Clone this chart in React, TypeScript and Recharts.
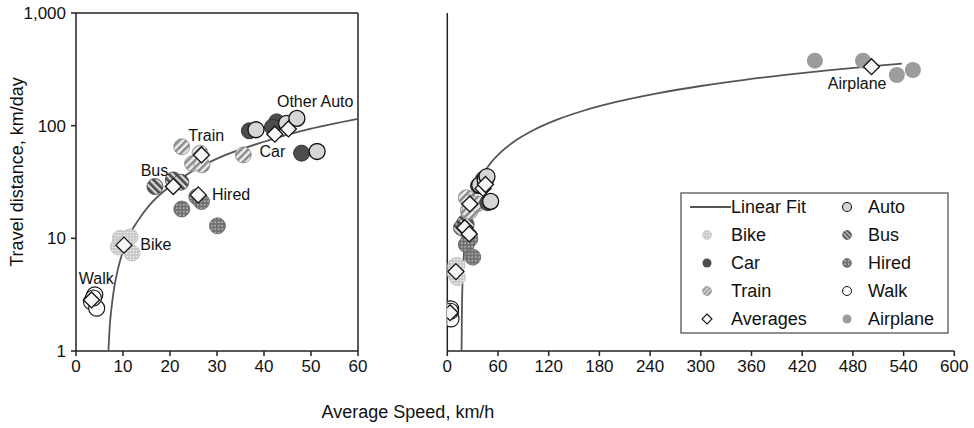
import React from 'react';
import { ComposedChart, Scatter, XAxis, YAxis, ReferenceLine } from 'recharts';

const FONT = '"Liberation Sans", Arial, Helvetica, sans-serif';

// ---- data (speed km/h, distance km/day) ----
const walkPts = [[4.0, 3.15], [3.3, 2.74], [4.4, 2.4], [3.7, 2.95]];
const bikePts = [[9.4, 10], [11.5, 10.3], [9.0, 8.4], [11.9, 7.4]];
const hiredPts = [[25.7, 23.4], [26.7, 21.2], [22.5, 18.2], [30.1, 12.9]];
const busPts = [[16.8, 28.8], [20.7, 33], [22.3, 31.5]];
const trainPts = [[22.5, 65], [26.4, 57], [24.8, 46], [26.8, 45], [35.6, 55]];
const carPts = [[36.9, 90], [42.7, 108], [41.8, 97], [48, 57]];
const autoPts = [[38.3, 92], [44.8, 105], [47, 116], [51.3, 59]];
const airplanePts = [[435, 2727], [492, 2727], [532, 1845], [551, 2115]];
const averagePts = [[3.3, 2.84], [10.2, 8.7], [20.7, 28.8], [26.0, 24.3], [26.7, 55], [42.3, 84], [45.2, 93.5], [502, 2315]];

const leftFitX = [6.9, 7.2, 7.6, 8.2, 9, 10, 11.5, 13, 16, 20, 25, 30, 40, 50, 60];
const leftFitY = [1.0, 1.7, 2.5, 3.8, 5.5, 7.7, 11, 14, 20.5, 29, 40, 51, 72, 94, 115];
const rightFitX = [16.9, 17.2, 17.7, 18.8, 21, 25, 30, 40, 50, 65, 80, 100, 130, 160, 200, 250, 300, 350, 400, 450, 500, 538];
const rightFitY = [1, 2.5, 5, 10, 21, 40, 64, 113, 161, 233, 306, 402, 547, 692, 885, 1127, 1368, 1610, 1851, 2093, 2334, 2520];

const leftXTicks = [0, 10, 20, 30, 40, 50, 60];
const rightXTicks = [0, 60, 120, 180, 240, 300, 360, 420, 480, 540, 600];
const leftYTicks = [1, 10, 100, 1000];
const rightYTicks = [1, 10, 100, 1000, 10000];

const leftNotes = [
  { name: 'Other Auto', x: 50.9, y: 165 },
  { name: 'Train', x: 27.7, y: 81 },
  { name: 'Car', x: 41.8, y: 58.8 },
  { name: 'Bus', x: 16.7, y: 39.8 },
  { name: 'Hired', x: 33, y: 24.3 },
  { name: 'Bike', x: 17, y: 8.8 },
  { name: 'Walk', x: 4.3, y: 4.36 },
];
const rightNotes = [{ name: 'Airplane', x: 485, y: 1473 }];

const pts = (a: number[][]) => a.map(([x, y]) => ({ x, y }));
const zipPts = (xs: number[], ys: number[]) => xs.map((x, i) => ({ x, y: ys[i] }));

const circle = (fill: string, stroke: string, sw: number, r = 8) => (p: any) => {
  if (p.cx == null || p.cy == null) return <g />;
  return <circle cx={p.cx} cy={p.cy} r={r} fill={fill} stroke={stroke} strokeWidth={sw} />;
};
const diamond = (p: any) => {
  if (p.cx == null || p.cy == null) return <g />;
  const h = 8;
  return (
    <path d={`M${p.cx},${p.cy - h}L${p.cx + h},${p.cy}L${p.cx},${p.cy + h}L${p.cx - h},${p.cy}Z`} fill="#f6f6f6" stroke="#111" strokeWidth={1.3} />
  );
};
const noteShape = (p: any) => {
  if (p.cx == null || p.cy == null) return <g />;
  return (
    <text x={p.cx} y={p.cy} textAnchor="middle" dominantBaseline="central" fontSize={16} fill="#111" fontFamily={FONT}>
      {p.payload ? p.payload.name : ''}
    </text>
  );
};
const none = () => <g />;

const axisStyle = { stroke: '#222', strokeWidth: 1.5 };
const tickStyle = { fontSize: 17, fill: '#111', fontFamily: FONT };

function seriesList(withAir: boolean, fitX: number[], fitY: number[], notes: any[]) {
  const items = [
    <Scatter key="fit" data={zipPts(fitX, fitY)} line={{ stroke: '#555', strokeWidth: 1.8 }} lineJointType="monotoneX" shape={none} isAnimationActive={false} />,
    <Scatter key="walk" data={pts(walkPts)} shape={circle('url(#walkPat)', '#111', 1.1)} isAnimationActive={false} />,
    <Scatter key="bike" data={pts(bikePts)} shape={circle('url(#bikePat)', '#bdbdbd', 0.8)} isAnimationActive={false} />,
    <Scatter key="hired" data={pts(hiredPts)} shape={circle('url(#hiredPat)', '#666', 0.8)} isAnimationActive={false} />,
    <Scatter key="bus" data={pts(busPts)} shape={circle('url(#busPat)', '#444', 0.8)} isAnimationActive={false} />,
    <Scatter key="train" data={pts(trainPts)} shape={circle('url(#trainPat)', '#8a8a8a', 0.8)} isAnimationActive={false} />,
    <Scatter key="car" data={pts(carPts)} shape={circle('#4d4d4d', '#333', 1)} isAnimationActive={false} />,
    <Scatter key="auto" data={pts(autoPts)} shape={circle('#d6d6d6', '#111', 1.3)} isAnimationActive={false} />,
  ];
  if (withAir) {
    items.push(<Scatter key="air" data={pts(airplanePts)} shape={circle('#9c9c9c', 'none', 0)} isAnimationActive={false} />);
  }
  items.push(<Scatter key="avg" data={pts(averagePts)} shape={diamond} isAnimationActive={false} />);
  items.push(<Scatter key="notes" data={notes} shape={noteShape} isAnimationActive={false} />);
  return items;
}

const legendRows1 = ['Linear Fit', 'Bike', 'Car', 'Train', 'Averages'];
const legendRows2 = ['Auto', 'Bus', 'Hired', 'Walk', 'Airplane'];

function LegendMarker({ name, cx, cy }: { name: string; cx: number; cy: number }) {
  const r = 4.5;
  switch (name) {
    case 'Linear Fit':
      return <line x1={cx - 17} y1={cy} x2={cx + 24} y2={cy} stroke="#555" strokeWidth={1.8} />;
    case 'Bike':
      return <circle cx={cx} cy={cy} r={r} fill="url(#bikePat)" stroke="#bdbdbd" strokeWidth={0.6} />;
    case 'Car':
      return <circle cx={cx} cy={cy} r={r} fill="#4d4d4d" />;
    case 'Train':
      return <circle cx={cx} cy={cy} r={r} fill="url(#trainPatS)" stroke="#8a8a8a" strokeWidth={0.6} />;
    case 'Averages':
      return <path d={`M${cx},${cy - 5}L${cx + 5},${cy}L${cx},${cy + 5}L${cx - 5},${cy}Z`} fill="#fff" stroke="#111" strokeWidth={1.1} />;
    case 'Auto':
      return <circle cx={cx} cy={cy} r={r} fill="#d6d6d6" stroke="#111" strokeWidth={1.1} />;
    case 'Bus':
      return <circle cx={cx} cy={cy} r={r} fill="url(#busPatS)" stroke="#444" strokeWidth={0.6} />;
    case 'Hired':
      return <circle cx={cx} cy={cy} r={r} fill="url(#hiredPat)" stroke="#666" strokeWidth={0.6} />;
    case 'Walk':
      return <circle cx={cx} cy={cy} r={r} fill="url(#walkPat)" stroke="#111" strokeWidth={1} />;
    default:
      return <circle cx={cx} cy={cy} r={r} fill="#9c9c9c" />;
  }
}

export default function App() {
  return (
    <div style={{ position: 'absolute', left: 0, top: 0, width: 974, height: 428, background: '#fff', overflow: 'hidden' }}>
      <svg width={0} height={0} style={{ position: 'absolute' }}>
        <defs>
          <pattern id="bikePat" width={3} height={3} patternUnits="userSpaceOnUse">
            <rect width={3} height={3} fill="#c9c9c9" />
            <circle cx={1.5} cy={1.5} r={0.8} fill="#f4f4f4" />
          </pattern>
          <pattern id="walkPat" width={6} height={6} patternUnits="userSpaceOnUse">
            <rect width={6} height={6} fill="#fff" />
            <circle cx={3} cy={3} r={0.5} fill="#777" />
          </pattern>
          <pattern id="hiredPat" width={3.5} height={3.5} patternUnits="userSpaceOnUse">
            <rect width={3.5} height={3.5} fill="#707070" />
            <circle cx={1.75} cy={1.75} r={0.9} fill="#c4c4c4" />
          </pattern>
          <pattern id="busPat" width={5} height={5} patternUnits="userSpaceOnUse" patternTransform="rotate(-45)">
            <rect width={5} height={5} fill="#d8d8d8" />
            <rect width={2.7} height={5} fill="#4a4a4a" />
          </pattern>
          <pattern id="trainPat" width={5} height={5} patternUnits="userSpaceOnUse" patternTransform="rotate(45)">
            <rect width={5} height={5} fill="#efefef" />
            <rect width={2.5} height={5} fill="#8a8a8a" />
          </pattern>
          <pattern id="busPatS" width={3} height={3} patternUnits="userSpaceOnUse" patternTransform="rotate(-45)">
            <rect width={3} height={3} fill="#d8d8d8" />
            <rect width={1.7} height={3} fill="#4a4a4a" />
          </pattern>
          <pattern id="trainPatS" width={3} height={3} patternUnits="userSpaceOnUse" patternTransform="rotate(45)">
            <rect width={3} height={3} fill="#efefef" />
            <rect width={1.6} height={3} fill="#8a8a8a" />
          </pattern>
        </defs>
      </svg>

      <div style={{ position: 'absolute', left: 0, top: 0 }}>
        <ComposedChart width={370} height={390} margin={{ top: 13, right: 12, left: 16, bottom: 9 }}>
          <XAxis type="number" dataKey="x" domain={[0, 60]} ticks={leftXTicks} allowDataOverflow height={30}
            axisLine={axisStyle} tickLine={axisStyle} tickSize={5} tickMargin={4} tick={tickStyle} interval={0} />
          <YAxis type="number" dataKey="y" scale="log" domain={[1, 1000]} ticks={leftYTicks} allowDataOverflow width={60}
            axisLine={axisStyle} tickLine={axisStyle} tickSize={5} tickMargin={5} tick={tickStyle} interval={0}
            tickFormatter={(v: number) => v.toLocaleString('en-US')} />
          <ReferenceLine y={1000} stroke="#222" strokeWidth={1.5} />
          <ReferenceLine x={60} stroke="#222" strokeWidth={1.5} />
          {seriesList(false, leftFitX, leftFitY, leftNotes)}
        </ComposedChart>
      </div>

      <div style={{ position: 'absolute', left: 390, top: 0 }}>
        <ComposedChart width={584} height={390} margin={{ top: 13, right: 19.7, left: 17.3, bottom: 9 }}>
          <XAxis type="number" dataKey="x" domain={[0, 600]} ticks={rightXTicks} allowDataOverflow height={30}
            axisLine={axisStyle} tickLine={axisStyle} tickSize={5} tickMargin={4} tick={tickStyle} interval={0} />
          <YAxis type="number" dataKey="y" scale="log" domain={[1, 10000]} ticks={rightYTicks} allowDataOverflow width={40}
            axisLine={axisStyle} tickLine={axisStyle} tickSize={6} tick={false} interval={0} />
          {seriesList(true, rightFitX, rightFitY, rightNotes)}
        </ComposedChart>
      </div>

      <svg width={974} height={428} style={{ position: 'absolute', left: 0, top: 0, pointerEvents: 'none' }}>
        <text x={17} y={172} transform="rotate(-90 17 172)" textAnchor="middle" dominantBaseline="central" fontSize={18} fill="#111" fontFamily={FONT}>
          Travel distance, km/day
        </text>
        <text x={408} y={412} textAnchor="middle" dominantBaseline="central" fontSize={18} fill="#111" fontFamily={FONT}>
          Average Speed, km/h
        </text>
        <rect x={681} y={193} width={267} height={140} fill="#fff" stroke="#555" strokeWidth={1.3} />
        {legendRows1.map((n, i) => (
          <g key={n}>
            <LegendMarker name={n} cx={707} cy={207 + i * 28} />
            <text x={731} y={207 + i * 28} dominantBaseline="central" fontSize={18} fill="#111" fontFamily={FONT}>{n}</text>
          </g>
        ))}
        {legendRows2.map((n, i) => (
          <g key={n}>
            <LegendMarker name={n} cx={847} cy={207 + i * 28} />
            <text x={868} y={207 + i * 28} dominantBaseline="central" fontSize={18} fill="#111" fontFamily={FONT}>{n}</text>
          </g>
        ))}
      </svg>
    </div>
  );
}
